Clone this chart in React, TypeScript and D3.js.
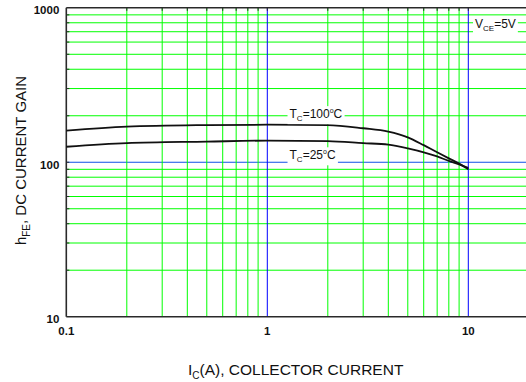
import { useEffect, useRef } from "react"
import * as d3 from "d3"

// collector current (A) and DC current gain
const currentA = [0.1, 0.2, 0.5, 1, 2, 3, 4, 5, 6, 7, 8, 9, 10]
const gainTc100 = [160, 170, 174, 175, 174, 166, 158, 145, 129, 116, 106, 98, 90]
const gainTc25 = [126, 133, 136, 138, 137, 133, 130, 123, 116, 109, 102, 97, 92]

const xTickLabels = [0.1, 1, 10]
const yTickLabels = [10, 100, 1000]
const xBlueLines = [1, 10]
const yBlueLines = [100]

const FONT = "'Liberation Sans', Arial, Helvetica, sans-serif"

export default function App() {
  const svgRef = useRef<SVGSVGElement>(null)

  useEffect(() => {
    if (!svgRef.current) return
    const svg = d3.select(svgRef.current)
    svg.selectAll("*").remove()

    const left = 66.3
    const top = 7.8
    const bottom = 316.7
    const decade = 201

    const x = d3
      .scaleLog()
      .domain([0.1, 20])
      .range([left, left + decade * Math.log10(200)])
    const y = d3.scaleLog().domain([10, 1000]).range([bottom, top])

    const xMin = 0.1
    const xGrid = x.ticks().filter((d) => d > xMin && d <= 10)
    const yGrid = y.ticks().filter((d) => d > 10 && d < 1000)
    const isBlue = (list: number[], d: number) => list.some((v) => Math.abs(v - d) < 1e-9)

    const g = svg.append("g")
    const rightEdge = 530

    // grid
    g.selectAll(".hgrid")
      .data(yGrid)
      .join("line")
      .attr("x1", left)
      .attr("x2", rightEdge)
      .attr("y1", (d) => y(d))
      .attr("y2", (d) => y(d))
      .attr("stroke", (d) => (isBlue(yBlueLines, d) ? "#1050e8" : "#00ff00"))
      .attr("stroke-width", 1)

    g.selectAll(".vgrid")
      .data(xGrid)
      .join("line")
      .attr("x1", (d) => x(d))
      .attr("x2", (d) => x(d))
      .attr("y1", top)
      .attr("y2", bottom)
      .attr("stroke", (d) => (isBlue(xBlueLines, d) ? "#0000ff" : "#00ff00"))
      .attr("stroke-width", 1)

    // frame + small inward ticks
    const frame = "#2a2a2a"
    g.append("line").attr("x1", left).attr("x2", rightEdge).attr("y1", top).attr("y2", top).attr("stroke", frame).attr("stroke-width", 1.6)
    g.append("line").attr("x1", left).attr("x2", rightEdge).attr("y1", bottom).attr("y2", bottom).attr("stroke", frame).attr("stroke-width", 1.6)
    g.append("line").attr("x1", left).attr("x2", left).attr("y1", top).attr("y2", bottom).attr("stroke", frame).attr("stroke-width", 1.6)

    g.selectAll(".ytick")
      .data(yGrid)
      .join("line")
      .attr("x1", left)
      .attr("x2", left + 3)
      .attr("y1", (d) => y(d))
      .attr("y2", (d) => y(d))
      .attr("stroke", frame)
      .attr("stroke-width", 1)
    g.selectAll(".xtick")
      .data(xGrid)
      .join("line")
      .attr("x1", (d) => x(d))
      .attr("x2", (d) => x(d))
      .attr("y1", top)
      .attr("y2", top + 3)
      .attr("stroke", frame)
      .attr("stroke-width", 1)

    // curves
    const rows = (gain: number[]) => currentA.map((c, i) => [c, gain[i]] as [number, number])
    const line = d3
      .line<[number, number]>()
      .x((d) => x(d[0]))
      .y((d) => y(d[1]))
      .curve(d3.curveMonotoneX)

    ;[gainTc100, gainTc25].forEach((gain) => {
      g.append("path")
        .datum(rows(gain))
        .attr("fill", "none")
        .attr("stroke", "#111")
        .attr("stroke-width", 1.8)
        .attr("d", line)
    })

    // annotations with white boxes
    const note = (cx: number, cy: number, main: string, sub: string, rest: string, deg: boolean) => {
      const ng = g.append("g")
      const t = ng
        .append("text")
        .attr("x", x(cx))
        .attr("y", y(cy))
        .attr("font-family", FONT)
        .attr("font-size", 12)
        .attr("fill", "#111")
      t.append("tspan").text(main)
      t.append("tspan").attr("font-size", 8).attr("dy", 3).text(sub)
      if (deg) {
        const parts = rest.split("°")
        t.append("tspan").attr("dy", -3).text(parts[0])
        t.append("tspan").attr("font-size", 7).attr("dy", -5).text("o")
        t.append("tspan").attr("dy", 5).text(parts[1])
      } else {
        t.append("tspan").attr("dy", -3).text(rest)
      }
      const bb = (t.node() as SVGTextElement).getBBox()
      ng.insert("rect", "text")
        .attr("x", bb.x - 2)
        .attr("y", bb.y - 1)
        .attr("width", bb.width + 4)
        .attr("height", bb.height + 2)
        .attr("fill", "#fff")
    }
    note(1.29, 193, "T", "C", "=100°C", true)
    note(1.29, 104.5, "T", "C", "=25°C", true)
    note(10.8, 736, "V", "CE", "=5V", false)

    // tick labels
    g.selectAll(".ylab")
      .data(yTickLabels)
      .join("text")
      .attr("x", left - 7)
      .attr("y", (d) => y(d) + 6.5)
      .attr("text-anchor", "end")
      .attr("font-family", FONT)
      .attr("font-weight", "bold")
      .attr("font-size", 11.5)
      .attr("fill", "#111")
      .text((d) => String(d))

    g.selectAll(".xlab")
      .data(xTickLabels)
      .join("text")
      .attr("x", (d) => x(d))
      .attr("y", 335)
      .attr("text-anchor", "middle")
      .attr("font-family", FONT)
      .attr("font-weight", "bold")
      .attr("font-size", 11.5)
      .attr("fill", "#111")
      .text((d) => String(d))

    // axis titles
    const xt = g
      .append("text")
      .attr("x", 188)
      .attr("y", 375)
      .attr("font-family", FONT)
      .attr("font-size", 15.5)
      .attr("fill", "#111")
    xt.append("tspan").text("I")
    xt.append("tspan").attr("font-size", 10).attr("dy", 4).text("C")
    xt.append("tspan").attr("dy", -4).text("(A), COLLECTOR CURRENT")

    const yt = g
      .append("text")
      .attr("transform", "translate(26,160.5) rotate(-90)")
      .attr("text-anchor", "middle")
      .attr("font-family", FONT)
      .attr("font-size", 15)
      .attr("fill", "#111")
    yt.append("tspan").text("h")
    yt.append("tspan").attr("font-size", 10).attr("dy", 4).text("FE")
    yt.append("tspan").attr("dy", -4).text(", DC CURRENT GAIN")
  }, [])

  return (
    <div style={{ position: "absolute", left: 0, top: 0 }}>
      <svg ref={svgRef} width={526} height={382} style={{ display: "block", background: "#fff" }} />
    </div>
  )
}
